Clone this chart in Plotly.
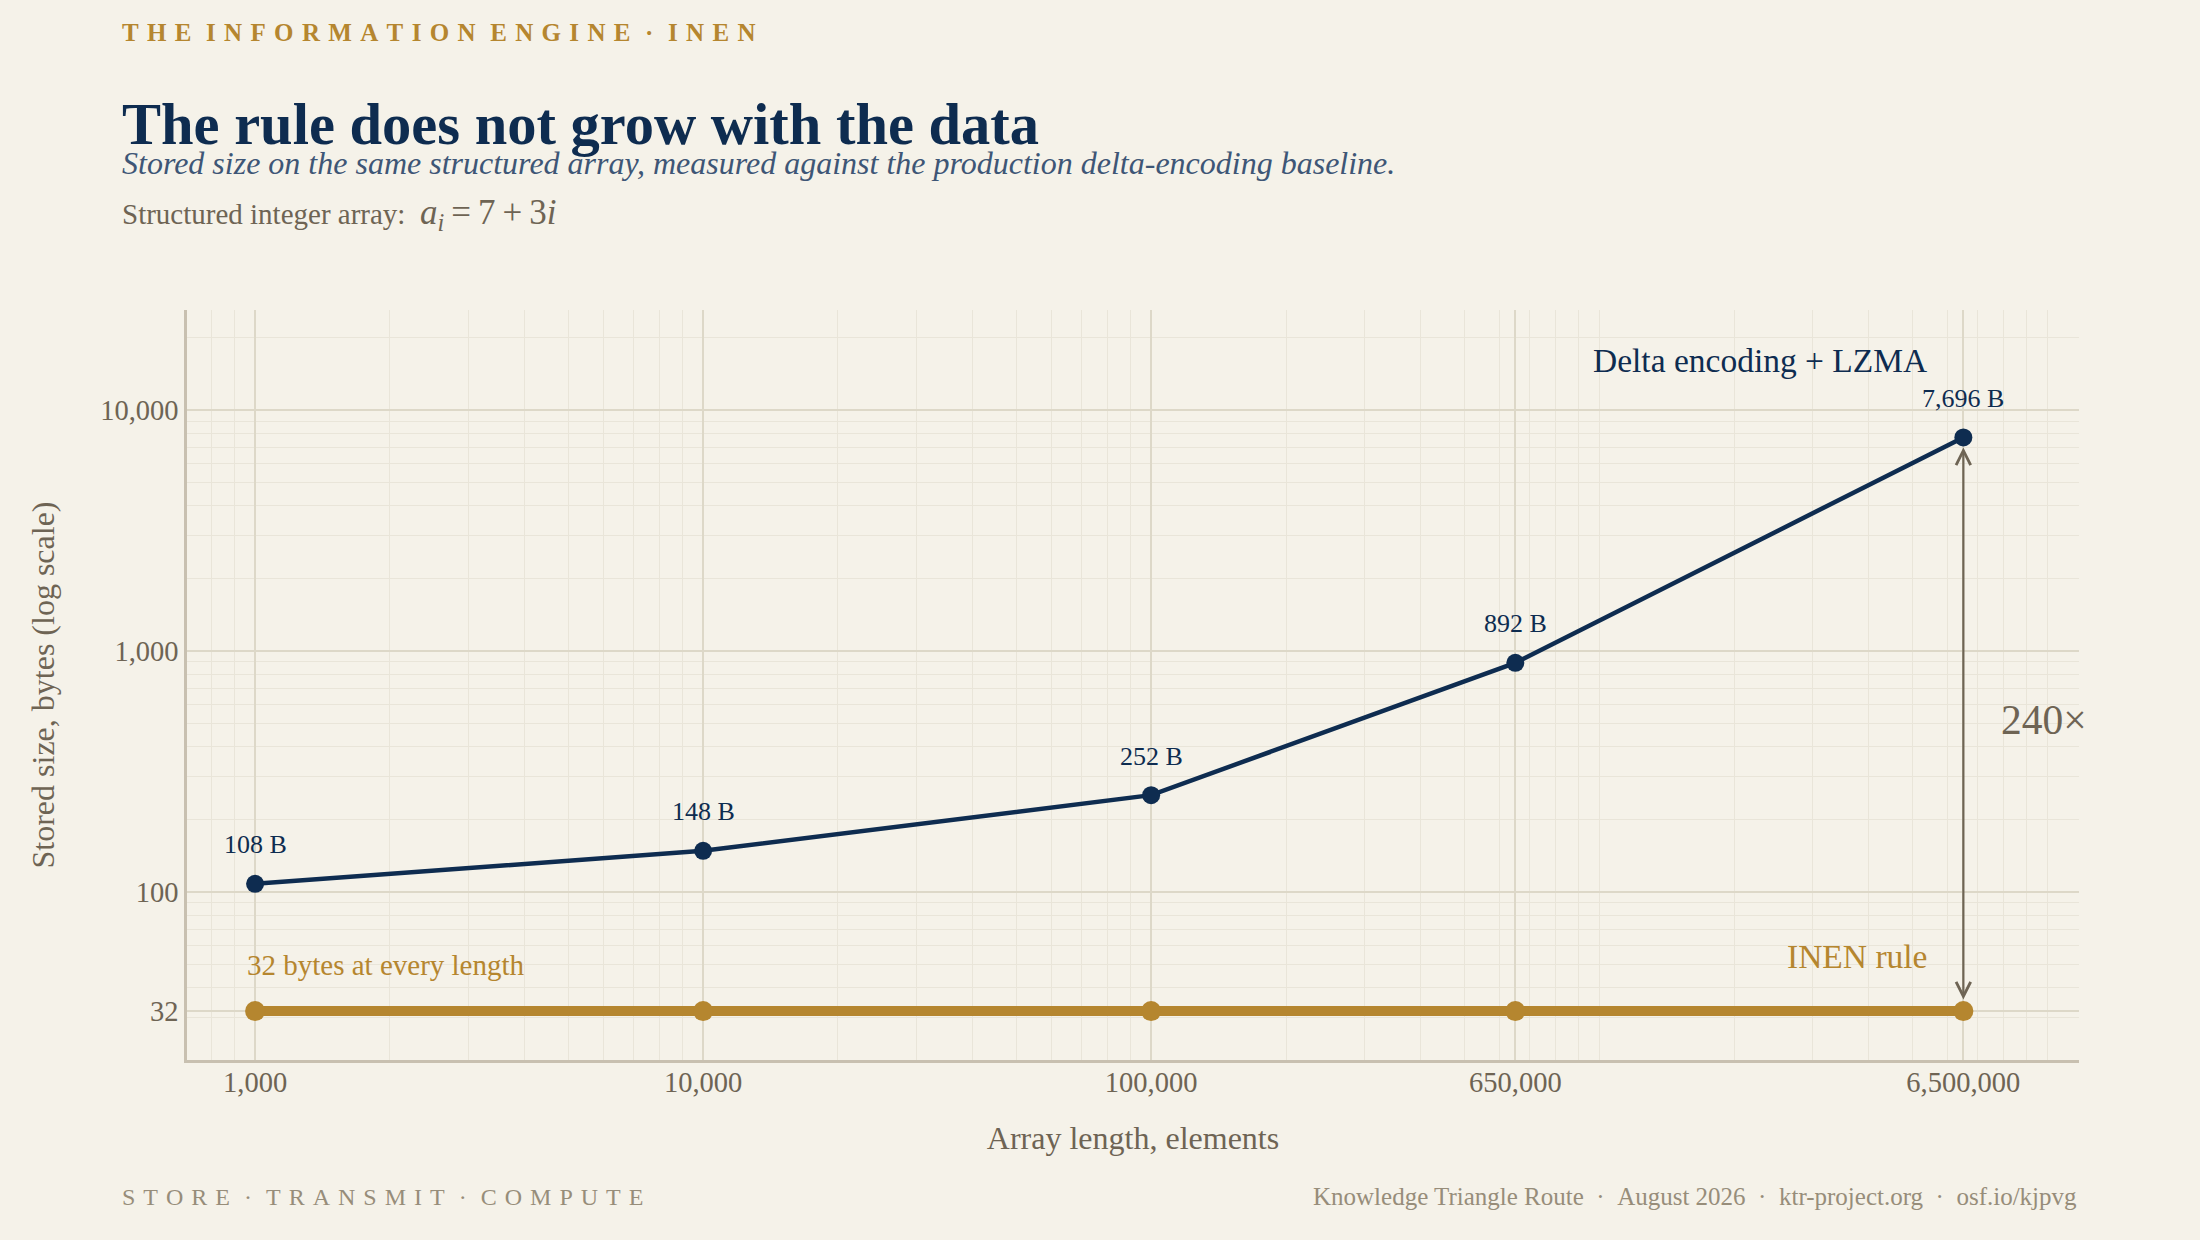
import math
import plotly.graph_objects as go

# data
lengths = [1000, 10000, 100000, 650000, 6500000]
delta_lzma_bytes = [108, 148, 252, 892, 7696]
inen_bytes = [32, 32, 32, 32, 32]
point_labels = ["108 B", "148 B", "252 B", "892 B", "7,696 B"]

x_tickvals = [1000, 10000, 100000, 650000, 6500000]
x_ticktext = ["1,000", "10,000", "100,000", "650,000", "6,500,000"]
y_tickvals = [32, 100, 1000, 10000]
y_ticktext = ["32", "100", "1,000", "10,000"]

ratio_label = "240×"

BG = "#F5F2E9"
NAVY = "#0E2C50"
GOLD = "#B5862F"
GRAY = "#6E6454"
LIGHTGRAY = "#978D7A"
SLATE = "#3E5676"
GRID = "#DDD8C8"
MINOR = "#E9E5D9"
AXIS = "#C8C0B0"
SERIF = "Liberation Serif, Times New Roman, serif"


def spaced(text, gap="\u00a0\u200a", wordgap="\u00a0\u00a0\u200a"):
    # fake letter-spacing, plotly has no letterspacing for annotations
    return wordgap.join(gap.join(w) for w in text.split(" "))


fig = go.Figure()

fig.add_trace(go.Scatter(
    x=lengths, y=inen_bytes, mode="lines+markers",
    line=dict(color=GOLD, width=10),
    marker=dict(size=20, color=GOLD),
    hoverinfo="skip",
))
fig.add_trace(go.Scatter(
    x=lengths, y=delta_lzma_bytes, mode="lines+markers",
    line=dict(color=NAVY, width=4.5),
    marker=dict(size=18, color=NAVY),
    hoverinfo="skip",
))

annotations = []

# value labels above the baseline points
for x, y, lab in zip(lengths, delta_lzma_bytes, point_labels):
    annotations.append(dict(
        x=math.log10(x), y=math.log10(y), xref="x", yref="y",
        text=lab, showarrow=False, yshift=39,
        font=dict(family=SERIF, size=26, color=NAVY),
    ))

# series labels
annotations.append(dict(
    x=math.log10(lengths[-1]), y=math.log10(delta_lzma_bytes[-1]), xref="x", yref="y",
    text="Delta encoding + LZMA", showarrow=False, xanchor="right",
    xshift=-34, yshift=77,
    font=dict(family=SERIF, size=33.5, color=NAVY),
))
annotations.append(dict(
    x=math.log10(lengths[-1]), y=math.log10(inen_bytes[-1]), xref="x", yref="y",
    text="INEN rule", showarrow=False, xanchor="right",
    xshift=-34, yshift=55,
    font=dict(family=SERIF, size=33.5, color=GOLD),
))
annotations.append(dict(
    x=math.log10(lengths[0]), y=math.log10(inen_bytes[0]), xref="x", yref="y",
    text="32 bytes at every length", showarrow=False, xanchor="left",
    xshift=-10, yshift=46,
    font=dict(family=SERIF, size=29, color=GOLD),
))

# gap arrow between the two series at the largest length
annotations.append(dict(
    x=math.log10(lengths[-1]), y=math.log10(delta_lzma_bytes[-1]),
    ax=math.log10(lengths[-1]), ay=math.log10(inen_bytes[-1]),
    xref="x", yref="y", axref="x", ayref="y",
    text="", showarrow=True, arrowhead=5, startarrowhead=5,
    arrowside="end+start", arrowsize=1.3, arrowwidth=2.2, arrowcolor=GRAY,
    standoff=10, startstandoff=10,
))
annotations.append(dict(
    x=math.log10(lengths[-1]),
    y=(math.log10(delta_lzma_bytes[-1]) + math.log10(inen_bytes[-1])) / 2,
    xref="x", yref="y", text=ratio_label, showarrow=False,
    xanchor="left", xshift=36, yshift=4,
    font=dict(family=SERIF, size=41.5, color=GRAY),
))

# header / footer text
annotations += [
    dict(x=-0.0354, y=1.370, xref="paper", yref="paper", xanchor="left", yanchor="middle",
         text="<b>" + spaced("THE INFORMATION ENGINE · INEN") + "</b>",
         showarrow=False, font=dict(family=SERIF, size=25, color=GOLD)),
    dict(x=-0.0354, y=1.248, xref="paper", yref="paper", xanchor="left", yanchor="middle",
         text="<b>The rule does not grow with the data</b>",
         showarrow=False, font=dict(family=SERIF, size=58.5, color=NAVY)),
    dict(x=-0.0354, y=1.196, xref="paper", yref="paper", xanchor="left", yanchor="middle",
         text="<i>Stored size on the same structured array, measured against the production delta-encoding baseline.</i>",
         showarrow=False, font=dict(family=SERIF, size=32, color=SLATE)),
    dict(x=-0.0354, y=1.127, xref="paper", yref="paper", xanchor="left", yanchor="middle",
         text="Structured integer array:\u00a0\u00a0<span style='font-size:35px'><i>a</i><sub><i>i</i></sub>\u2009=\u20097\u2009+\u20093<i>i</i></span>",
         showarrow=False, font=dict(family=SERIF, size=29, color=GRAY)),
    dict(x=-0.0354, y=-0.1826, xref="paper", yref="paper", xanchor="left", yanchor="middle",
         text=spaced("STORE · TRANSMIT · COMPUTE"),
         showarrow=False, font=dict(family=SERIF, size=24, color=LIGHTGRAY)),
    dict(x=1.0, y=-0.1826, xref="paper", yref="paper", xanchor="right", yanchor="middle",
         text="Knowledge Triangle Route\u00a0\u00a0·\u00a0\u00a0August 2026\u00a0\u00a0·\u00a0\u00a0ktr-project.org\u00a0\u00a0·\u00a0\u00a0osf.io/kjpvg",
         showarrow=False, font=dict(family=SERIF, size=25, color=LIGHTGRAY)),
]

fig.update_layout(
    width=2200, height=1240,
    paper_bgcolor=BG, plot_bgcolor=BG,
    margin=dict(l=187, r=121, t=310, b=180),
    showlegend=False,
    annotations=annotations,
    font=dict(family=SERIF, color=GRAY),
)

fig.update_xaxes(
    type="log", range=[2.848, 7.071],
    tickvals=x_tickvals, ticktext=x_ticktext, ticks="",
    tickfont=dict(family=SERIF, size=28.5, color=GRAY),
    ticklabelstandoff=-5,
    showgrid=True, gridcolor=GRID, gridwidth=1.5,
    minor=dict(dtick="D1", showgrid=True, gridcolor=MINOR, gridwidth=1, ticks=""),
    showline=True, linecolor=AXIS, linewidth=2.5, zeroline=False,
    title=dict(text="Array length, elements", standoff=30,
               font=dict(family=SERIF, size=32, color=GRAY)),
)
fig.update_yaxes(
    type="log", range=[1.302, 4.415],
    tickvals=y_tickvals, ticktext=y_ticktext, ticks="",
    tickfont=dict(family=SERIF, size=28.5, color=GRAY),
    showgrid=True, gridcolor=GRID, gridwidth=1.5,
    minor=dict(dtick="D1", showgrid=True, gridcolor=MINOR, gridwidth=1, ticks=""),
    showline=True, linecolor=AXIS, linewidth=2.5, zeroline=False,
    title=dict(text="Stored size, bytes (log scale)", standoff=36,
               font=dict(family=SERIF, size=32, color=GRAY)),
)

fig.write_html("out.html", config={"displayModeBar": False},
               post_script="document.body.style.margin='0';")
